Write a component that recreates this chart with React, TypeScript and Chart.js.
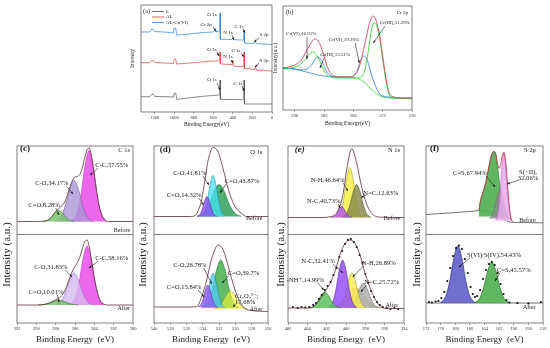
import React, { useEffect, useRef } from 'react';
import { Chart, registerables } from 'chart.js';

Chart.register(...registerables);

const W = 550;
const H = 348;
const FONT = '"Liberation Serif", "DejaVu Serif", "Times New Roman", serif';
Chart.defaults.font.family = FONT;

// ---------------- (a) survey spectra ----------------
const seriesNames = ['L', 'AL', 'AL-Cr(VI)'];
const surveyE_L = [1340, 1250, 1230, 1215, 1200, 1100, 1010, 1000, 985, 975, 900, 800, 700, 600, 545, 533, 531, 528, 300, 288, 285, 282, 0];
const surveyL = [15.3, 15.3, 17.7, 17.7, 15.5, 15.3, 15, 18.7, 18.7, 12.7, 13.5, 14.7, 15.8, 16.5, 17, 18, 32, 12.7, 12.3, 13.5, 32, 8, 8];
const surveyE_AL = [1340, 1250, 1230, 1215, 1200, 1100, 1010, 1000, 985, 975, 900, 800, 700, 600, 545, 533, 531, 528, 410, 402, 400, 397, 300, 288, 285, 282, 240, 230, 225, 180, 168, 160, 100, 0];
const surveyAL = [49.3, 49.3, 51.3, 51.3, 49.5, 49, 48.5, 52.7, 52.7, 48, 48.5, 49.3, 50.3, 51, 51.3, 53, 60, 48, 47.5, 48, 52, 46, 45.5, 47, 60, 43.7, 43.2, 44.5, 43, 42.5, 45.3, 42, 41.5, 41];
const surveyE_ALCr = [1340, 1250, 1230, 1215, 1200, 1100, 1010, 1000, 985, 975, 900, 800, 700, 600, 590, 580, 575, 545, 533, 531, 528, 500, 410, 400, 395, 300, 288, 285, 282, 200, 168, 162, 0];
const surveyALCr = [80, 80, 83, 83, 80.5, 80, 79, 84, 84, 77, 77.5, 78.5, 79.5, 80, 81, 82, 80.5, 80.5, 82, 98.7, 72.7, 72.7, 72.5, 74, 72.3, 72, 73, 82, 69, 68.5, 69.5, 68.3, 67.5];
const surveyTicks = { min: 0, max: 1340, step: 200 };

// ---------------- (b) Cr 2p ----------------
const crEnvE = [592, 591, 590, 589, 588, 587, 586.6, 586, 585.5, 585, 584.5, 584, 583.3, 582, 581, 580, 579.5, 579, 578.5, 578, 577.5, 577, 576.7, 576.3, 576, 575.5, 575, 574.5, 574, 573.5, 573, 572, 570];
const crEnv = [43, 44, 46, 50, 60, 70, 72, 70, 64, 55, 45, 39, 35, 34, 34, 35, 38, 44, 55, 68, 82, 92, 95, 93, 88, 75, 55, 35, 20, 15, 14, 13, 13];
const crIIIE = [592, 590, 589, 588, 587.5, 587, 586.5, 586, 585.5, 585, 584.5, 584, 582, 580, 579, 578.5, 578, 577.5, 577, 576.5, 576, 575.5, 575, 574.5, 574, 573.5, 572, 570];
const crIII = [42, 44, 47, 53, 57, 59, 57.5, 53, 47, 40, 36, 34, 33, 33, 33, 35, 42, 58, 78, 88, 85, 72, 52, 32, 18, 14, 13, 12];
const crVIE = [592, 590, 589, 588, 587, 586.5, 586, 585.5, 585, 584.5, 584, 583, 581, 580, 579.5, 579, 578.5, 578.2, 577.8, 577.3, 577, 576.5, 576, 575.5, 575, 574, 572, 570];
const crVI = [43, 42, 41, 42, 47, 52, 54, 51, 45, 39, 36, 34, 34, 35, 38, 46, 54, 55, 53, 45, 38, 29, 22, 17, 15, 14, 13, 13];
const crBgLeftE = [592, 590, 589, 588, 587, 586, 585, 584, 583];
const crBgLeft = [43, 42, 40.5, 39, 37.5, 36, 35, 34.5, 34];
const crBgRightE = [583, 581, 580, 579, 578, 577, 576, 575, 574, 572, 570];
const crBgRight = [34, 34, 33.5, 32, 28, 22, 17, 14, 13, 12.5, 12.5];
const crTicks = { min: 570, max: 592, step: 5 };

// ---------------- (c) C 1s ----------------
const cTicks = { min: 280, max: 292, step: 2 };
const cBeforeEnvE = [292, 290, 289, 288.5, 288, 287.5, 287, 286.5, 286.1, 285.75, 285.5, 285.25, 285, 284.75, 284.55, 284.25, 284, 283.5, 283, 282.5, 280];
const cBeforeEnv = [13, 13, 13.7, 16.8, 23.1, 27.4, 33.6, 48.3, 56.8, 58.1, 60.1, 66.3, 76.4, 84.9, 86.4, 76.3, 59.6, 28.3, 15.6, 13, 13];
const cBeforeCdOE = [289.35, 288.855, 288.47, 288.085, 287.7, 287.315, 286.93, 286.545, 286.05];
const cBeforeCdO = [13, 14.2, 17.1, 21.6, 24, 21.6, 17.1, 14.2, 13];
const cBeforeCOE = [288.05, 287.465, 287.01, 286.555, 286.1, 285.645, 285.19, 284.735, 284.15];
const cBeforeCO = [13, 17.5, 28.4, 45.1, 54, 45.1, 28.4, 17.5, 13];
const cBeforeCCE = [286.35, 285.81, 285.39, 284.97, 284.55, 284.13, 283.71, 283.29, 282.75];
const cBeforeCC = [13, 20.8, 39.6, 68.6, 84, 68.6, 39.6, 20.8, 13];
const cAfterEnvE = [292, 290, 289.5, 289, 288.5, 288, 287.5, 287, 286.5, 286.1, 285.75, 285.5, 285.25, 285, 284.75, 284.5, 284.25, 284, 283.5, 283, 282.5, 280];
const cAfterEnv = [18, 18, 18.2, 18.9, 20.6, 23, 26, 33.3, 46.5, 55.1, 60.5, 65.9, 74, 81, 83, 75, 60.2, 45, 24.7, 18.8, 18, 18];
const cAfterCdOE = [289.8, 289.17, 288.68, 288.19, 287.7, 287.21, 286.72, 286.23, 285.6];
const cAfterCdO = [18, 18.55, 19.9, 21.9, 23, 21.9, 19.9, 18.55, 18];
const cAfterCOE = [288.05, 287.465, 287.01, 286.555, 286.1, 285.645, 285.19, 284.735, 284.15];
const cAfterCO = [18, 21.5, 30, 43.1, 50, 43.1, 30, 21.5, 18];
const cAfterCCE = [286.55, 286.01, 285.59, 285.17, 284.75, 284.33, 283.91, 283.49, 282.95];
const cAfterCC = [18, 24.5, 40.1, 64.2, 77, 64.2, 40.1, 24.5, 18];

// ---------------- (d) O 1s ----------------
const oTicks = { min: 526, max: 540, step: 2 };
const oBeforeEnvE = [540, 535.5, 534.96, 534.56, 534.14, 533.73, 533.33, 532.71, 532.1, 531.49, 530.87, 530.05, 529.23, 528.61, 526];
const oBeforeEnv = [18, 18, 19, 24, 35, 55, 75, 87, 82, 65, 45, 28, 21, 18, 18];
const oBeforePurE = [534.7, 534.34, 534.06, 533.78, 533.5, 533.22, 532.94, 532.66, 532.3];
const oBeforePur = [18, 20.2, 25.5, 33.7, 38, 33.7, 25.5, 20.2, 18];
const oBeforeCyanE = [534.25, 533.8, 533.45, 533.1, 532.75, 532.4, 532.05, 531.7, 531.25];
const oBeforeCyan = [18, 22.5, 33.4, 50.1, 59, 50.1, 33.4, 22.5, 18];
const oBeforeGrnE = [534.7, 533.89, 533.26, 532.63, 532.0, 531.37, 530.74, 530.11, 529.3];
const oBeforeGrn = [18, 21.5, 30, 43.1, 50, 43.1, 30, 21.5, 18];
const oAfterEnvE = [540, 535.5, 534.76, 534.14, 533.53, 532.91, 532.1, 531.49, 530.87, 530.05, 529.23, 528.4, 526];
const oAfterEnv = [16, 16, 16.3, 26.3, 43, 64.7, 78, 73, 56.3, 33, 18, 13, 11.5];
const oAfterPurE = [534.6, 534.24, 533.96, 533.68, 533.4, 533.12, 532.84, 532.56, 532.2];
const oAfterPur = [16, 18.4, 24.3, 33.2, 38, 33.2, 24.3, 18.4, 16];
const oAfterCyanE = [534.25, 533.8, 533.45, 533.1, 532.75, 532.4, 532.05, 531.7, 531.25];
const oAfterCyan = [15, 18.9, 28.1, 42.4, 50, 42.4, 28.1, 18.9, 15];
const oAfterGrnE = [534.05, 533.375, 532.85, 532.325, 531.8, 531.275, 530.75, 530.225, 529.55];
const oAfterGrn = [15, 20.3, 33, 52.6, 63, 52.6, 33, 20.3, 15];
const oAfterYelE = [532.7, 532.07, 531.58, 531.09, 530.6, 530.11, 529.62, 529.13, 528.5];
const oAfterYel = [14, 16, 20.75, 28.1, 32, 28.1, 20.75, 16, 14];

// ---------------- (e) N 1s ----------------
const nTicks = { min: 394, max: 406, step: 2 };
const nBeforeEnvE = [406, 402.5, 401.66, 400.8, 400.28, 399.93, 399.41, 398.9, 398.55, 398.03, 397.34, 396.3, 394];
const nBeforeEnv = [17, 17, 17.7, 24.3, 41.7, 65, 85.7, 71.7, 55, 35, 21, 17.3, 17];
const nBeforeNCE = [401.5, 401.185, 400.94, 400.695, 400.45, 400.205, 399.96, 399.715, 399.4];
const nBeforeNC = [17, 18.2, 21.1, 25.6, 28, 25.6, 21.1, 18.2, 17];
const nBeforeNHE = [400.95, 400.545, 400.23, 399.915, 399.6, 399.285, 398.97, 398.655, 398.25];
const nBeforeNH = [17, 22.5, 35.8, 56.2, 67, 56.2, 35.8, 22.5, 17];
const nBeforeNdCE = [400.4, 399.95, 399.6, 399.25, 398.9, 398.55, 398.2, 397.85, 397.4];
const nBeforeNdC = [17, 20.6, 29.4, 42.8, 50, 42.8, 29.4, 20.6, 17];
const nAfterEnvE = [406, 404, 403.55, 402.86, 402.17, 401.48, 400.96, 400.45, 399.93, 399.59, 399.07, 398.55, 398.03, 397.34, 396.66, 395.97, 394];
const nAfterEnv = [15, 15, 15.3, 21.3, 31.3, 43, 57, 73, 81.3, 83, 79.7, 68, 49.7, 31.3, 19, 14.7, 14.5];
const nAfterNHpE = [403.85, 403.355, 402.97, 402.585, 402.2, 401.815, 401.43, 401.045, 400.55];
const nAfterNHp = [15, 16.8, 21, 27.5, 31, 27.5, 21, 16.8, 15];
const nAfterNCE = [401.85, 401.4, 401.05, 400.7, 400.35, 400.0, 399.65, 399.3, 398.85];
const nAfterNC = [15, 20.3, 33, 52.6, 63, 52.6, 33, 20.3, 15];
const nAfterNHE = [400.9, 400.45, 400.1, 399.75, 399.4, 399.05, 398.7, 398.35, 397.9];
const nAfterNH = [15, 18.9, 28.1, 42.4, 50, 42.4, 28.1, 18.9, 15];
const nAfterNdCE = [399.85, 399.355, 398.97, 398.585, 398.2, 397.815, 397.43, 397.045, 396.55];
const nAfterNdC = [15, 17.75, 24.4, 34.6, 40, 34.6, 24.4, 17.75, 15];
const nAfterTanE = [401.7, 400.89, 400.26, 399.63, 399.0, 398.37, 397.74, 397.11, 396.3];
const nAfterTan = [15, 17.2, 22.5, 30.7, 35, 30.7, 22.5, 17.2, 15];
const nAfterDotE = [405.5, 405, 404.6, 404.2, 403.8, 403.4, 403.1, 402.8, 402.5, 402.2, 401.9, 401.6, 401.3, 401, 400.7, 400.4, 400.1, 399.8, 399.5, 399.2, 398.9, 398.6, 398.3, 398, 397.7, 397.4, 397.1, 396.8, 396.5, 396.2, 395.8, 395.4, 395, 394.6];
const nAfterDot = [16, 15, 16, 15.5, 16, 18, 20, 24, 28, 33, 37, 41, 48, 55, 66, 72, 79, 83, 84, 81, 76, 68, 60, 49, 40, 32, 26, 21, 18, 16, 15, 14, 15, 14];

// ---------------- (f) S 2p ----------------
const sTicks = { min: 156, max: 172, step: 2 };
const sBeforeBgE = [172, 166, 164.6, 163.5, 162.8, 161.5, 160.5, 159.5, 156];
const sBeforeBg = [20, 23, 24, 23, 21, 16, 12.3, 12, 11.7];
const sBeforeEnvE = [164.75, 164.55, 164.3, 164.0, 163.6, 163.2, 162.9, 162.7, 162.45, 162.2, 162.0, 161.8, 161.6, 161.35, 161.1, 160.85, 160.6, 160.35, 160.1];
const sBeforeEnv = [24, 34, 40, 47, 60, 75, 82, 83, 80, 70, 66, 70, 78, 82, 72, 50, 28, 15, 12.5];
const sBeforeCSE = [164.75, 164.55, 164.3, 164.0, 163.6, 163.2, 162.9, 162.7, 162.45, 162.2, 161.9, 161.6, 161.3, 161.0];
const sBeforeCS = [24, 34, 40, 47, 60, 75, 82, 83, 80, 68, 48, 30, 20, 17];
const sBeforeGrayE = [163.4, 162.95, 162.6, 162.25, 161.9, 161.55, 161.2, 160.85, 160.4];
const sBeforeGray = [16, 19.2, 26.9, 38.7, 45, 38.7, 26.9, 19.2, 16];
const sBeforeSIIE = [162.49, 162.148, 161.882, 161.616, 161.35, 161.084, 160.818, 160.552, 160.21];
const sBeforeSII = [14, 21.5, 39.5, 67.2, 82, 67.2, 39.5, 21.5, 14];
const sAfterBaseE = [172, 156];
const sAfterBase = [20, 20];
const sAfterSVIE = [170.05, 169.33, 168.77, 168.21, 167.65, 167.09, 166.53, 165.97, 165.25];
const sAfterSVI = [20, 26.3, 41.4, 64.6, 77, 64.6, 41.4, 26.3, 20];
const sAfterCSE = [165.4, 164.68, 164.12, 163.56, 163.0, 162.44, 161.88, 161.32, 160.6];
const sAfterCS = [20, 24.5, 35.4, 52.1, 61, 52.1, 35.4, 24.5, 20];
const sAfterDotE = [171.6, 171.2, 170.7, 170.3, 169.9, 169.5, 169.1, 168.7, 168.3, 167.9, 167.5, 167.1, 166.7, 166.3, 165.9, 165.6, 165.3, 165.0, 164.6, 164.2, 163.8, 163.4, 163.0, 162.6, 162.2, 161.8, 161.4, 161.0, 160.6, 159.5, 158, 156.3];
const sAfterDot = [21, 20.5, 21.5, 22, 25, 31, 42, 55, 67, 75, 77.5, 74, 64, 50, 36, 29, 26, 27, 33, 44, 53, 59, 61, 58, 50, 39, 29, 23, 20.5, 20, 19.5, 21];

// ---------------- helpers ----------------
type Ann = { t: string; x: number; y: number; ax?: string; al?: CanvasTextAlign; s?: number; b?: boolean; i?: boolean; arr?: number[] };
type Area = { l: number; t: number; r: number; b: number };

const pts = (xs: number[], ys: number[]) => xs.map((x, i) => ({ x, y: ys[i] }));

const lineDs = (label: string, xs: number[], ys: number[], color: string, yAxisID = 'y', width = 0.8, smooth = true) => ({
  label, data: pts(xs, ys), yAxisID, borderColor: color, backgroundColor: color, borderWidth: width,
  pointRadius: 0, fill: false, tension: 0, cubicInterpolationMode: smooth ? 'monotone' : 'default',
});
const areaDs = (label: string, xs: number[], ys: number[], edge: string, fillColor: string, base: number, yAxisID: string) => ({
  label, data: pts(xs, ys), yAxisID, borderColor: edge, backgroundColor: fillColor, borderWidth: 0.6,
  pointRadius: 0, fill: { value: base }, cubicInterpolationMode: 'monotone',
});
const dotDs = (label: string, xs: number[], ys: number[], yAxisID: string) => ({
  label, data: pts(xs, ys), yAxisID, showLine: false, pointRadius: 1.1, pointBorderWidth: 0,
  pointBackgroundColor: '#111', borderColor: '#111', backgroundColor: '#111', fill: false,
});

function xScale(t: { min: number; max: number; step: number }, title: string, tickSize: number, titleSize: number, height: number) {
  return {
    type: 'linear', position: 'bottom', reverse: true, min: t.min, max: t.max,
    ticks: {
      stepSize: t.step, includeBounds: false, autoSkip: false, maxRotation: 0,
      font: { size: tickSize, family: FONT }, color: '#333', padding: 1,
      callback: (v: any) => String(v),
    },
    grid: { display: true, drawOnChartArea: false, drawTicks: true, tickLength: 2, color: '#555', lineWidth: 0.5 },
    border: { display: false },
    title: { display: true, text: title, font: { size: titleSize, family: FONT }, color: '#222', padding: 0 },
    afterFit: (s: any) => { s.height = height; },
  };
}

function baseOptions(area: Area, xH: number, scales: any) {
  return {
    responsive: false, animation: false, events: [],
    layout: { padding: { left: area.l, top: area.t, right: W - area.r, bottom: H - area.b - xH } },
    plugins: { legend: { display: false }, tooltip: { enabled: false } },
    scales,
  };
}

function decor(anns: Ann[], o: { divider?: boolean; yTitle?: { text: string; dx: number; size: number; dy?: number }; legend?: boolean }) {
  return {
    id: 'decor',
    afterDraw(chart: any) {
      const ctx = chart.ctx as CanvasRenderingContext2D;
      const ca = chart.chartArea;
      const xs = chart.scales.x;
      ctx.save();
      ctx.strokeStyle = '#4a4a4a';
      ctx.lineWidth = 0.7;
      ctx.strokeRect(ca.left, ca.top, ca.right - ca.left, ca.bottom - ca.top);
      if (o.divider) {
        const yb = chart.scales.yB.bottom;
        ctx.beginPath(); ctx.moveTo(ca.left, yb); ctx.lineTo(ca.right, yb); ctx.stroke();
      }
      if (o.yTitle) {
        ctx.save();
        ctx.translate(ca.left - o.yTitle.dx, (ca.top + ca.bottom) / 2 + (o.yTitle.dy || 0));
        ctx.rotate(-Math.PI / 2);
        ctx.font = `${o.yTitle.size}px ${FONT}`;
        ctx.fillStyle = '#222'; ctx.textAlign = 'center'; ctx.textBaseline = 'middle';
        ctx.fillText(o.yTitle.text, 0, 0);
        ctx.restore();
      }
      if (o.legend) {
        chart.data.datasets.forEach((d: any, i: number) => {
          const y = ca.top + 6.5 + i * 5.5;
          ctx.strokeStyle = d.borderColor; ctx.lineWidth = 0.8;
          ctx.beginPath(); ctx.moveTo(ca.left + 11, y); ctx.lineTo(ca.left + 23, y); ctx.stroke();
          ctx.fillStyle = '#222'; ctx.font = `5px ${FONT}`; ctx.textAlign = 'left'; ctx.textBaseline = 'middle';
          ctx.fillText(d.label, ca.left + 25, y);
        });
      }
      for (const a of anns) {
        const ys = chart.scales[a.ax || 'y'];
        ctx.strokeStyle = '#1a1a1a'; ctx.fillStyle = '#1a1a1a'; ctx.lineWidth = 0.6;
        if (a.arr) {
          const x1 = xs.getPixelForValue(a.arr[0]), y1 = ys.getPixelForValue(a.arr[1]);
          const x2 = xs.getPixelForValue(a.arr[2]), y2 = ys.getPixelForValue(a.arr[3]);
          ctx.beginPath(); ctx.moveTo(x1, y1); ctx.lineTo(x2, y2); ctx.stroke();
          const ang = Math.atan2(y2 - y1, x2 - x1);
          const c = Math.cos(ang), s = Math.sin(ang);
          ctx.beginPath();
          ctx.moveTo(x2, y2);
          ctx.lineTo(x2 - 2.6 * c + 1.1 * s, y2 - 2.6 * s - 1.1 * c);
          ctx.lineTo(x2 - 2.6 * c - 1.1 * s, y2 - 2.6 * s + 1.1 * c);
          ctx.closePath(); ctx.fill();
        }
        ctx.font = `${a.i ? 'italic ' : ''}${a.b ? 'bold ' : ''}${a.s || 6.6}px ${FONT}`;
        ctx.textAlign = a.al || 'center';
        ctx.textBaseline = 'middle';
        ctx.fillText(a.t, xs.getPixelForValue(a.x), ys.getPixelForValue(a.y));
      }
      ctx.restore();
    },
  };
}

// ---------------- annotations ----------------
const annA: Ann[] = [
  { t: '(a)', x: 1320, y: 100.5, al: 'left', s: 6.5 },
  { t: 'O 1s', x: 614, y: 97, s: 5 },
  { t: 'Cr 2p', x: 675, y: 87, s: 5, arr: [604, 85, 573, 81] },
  { t: 'N 1s', x: 450, y: 79, s: 5, arr: [409, 77, 389, 72] },
  { t: 'C 1s', x: 338, y: 85, s: 5, arr: [297, 83, 276, 79] },
  { t: 'S 2p', x: 82, y: 77, s: 5, arr: [133, 74, 184, 70] },
  { t: 'O 1s', x: 614, y: 62, s: 5, arr: [563, 60, 542, 56] },
  { t: 'N 1s', x: 450, y: 55, s: 5, arr: [419, 52, 399, 49] },
  { t: 'C 1s', x: 368, y: 61, s: 5, arr: [317, 59, 286, 55] },
  { t: 'S 2p', x: 82, y: 51, s: 5, arr: [133, 49, 174, 45] },
  { t: 'O 1s', x: 614, y: 32, s: 5, arr: [563, 29, 532, 22] },
  { t: 'C 1s', x: 348, y: 28, s: 5, arr: [307, 26, 286, 21] },
];
const annB: Ann[] = [
  { t: '(b)', x: 591.5, y: 99, al: 'left', s: 6.5 },
  { t: 'Cr 2p', x: 570.7, y: 98, al: 'right', s: 5 },
  { t: 'Cr(III),51.29%', x: 572.9, y: 88, s: 5, arr: [574.6, 85, 576.6, 68] },
  { t: 'Cr(VI),16.01%', x: 588.9, y: 77, s: 5, arr: [587.9, 74, 587.9, 52] },
  { t: 'Cr(III),13.51%', x: 583.1, y: 56, s: 5, arr: [585, 53, 585.7, 43] },
  { t: 'Cr(VI),19.20%', x: 581.6, y: 71, s: 5, arr: [579.7, 68, 579, 48] },
];
const annC: Ann[] = [
  { t: '(c)', x: 291.7, y: 85.5, ax: 'yB', al: 'left', s: 9, b: true },
  { t: 'C 1s', x: 280.3, y: 84.5, ax: 'yB', al: 'right', s: 6.5 },
  { t: 'C-C,57.55%', x: 282.2, y: 69.5, ax: 'yB', arr: [283.6, 66.5, 284.45, 59.5] },
  { t: 'C-O,34.17%', x: 288.4, y: 51.5, ax: 'yB', arr: [286.9, 48.5, 286.2, 40.5] },
  { t: 'C=O,8.28%', x: 289.2, y: 29.5, ax: 'yB', arr: [288, 26.5, 287.65, 19.5] },
  { t: 'Before', x: 280.3, y: 4, ax: 'yB', al: 'right', s: 6 },
  { t: 'C-C,58.16%', x: 282.2, y: 65, ax: 'yA', arr: [283.6, 62, 284.55, 55] },
  { t: 'C-O,31.83%', x: 288.5, y: 56, ax: 'yA', arr: [287, 53, 286.3, 46] },
  { t: 'C=O,10.01%', x: 289, y: 31, ax: 'yA', arr: [287.8, 28, 287.65, 20.5] },
  { t: 'After', x: 280.3, y: 15, ax: 'yA', al: 'right', s: 6 },
];
const annD: Ann[] = [
  { t: '(d)', x: 539.3, y: 84.5, ax: 'yB', al: 'left', s: 9, b: true },
  { t: 'O 1s', x: 526.7, y: 82.5, ax: 'yB', al: 'right', s: 6.5 },
  { t: 'C-O,41.81%', x: 535.6, y: 61.5, ax: 'yB', arr: [534, 58.5, 533.25, 49.5] },
  { t: 'C=O,43.87%', x: 529.2, y: 53.5, ax: 'yB', arr: [531.15, 50.5, 531.9, 41.5] },
  { t: 'C=O,14.32%', x: 536.3, y: 39.5, ax: 'yB', arr: [534.5, 36.5, 533.9, 29.5] },
  { t: 'Before', x: 526.7, y: 16, ax: 'yB', al: 'right', s: 6 },
  { t: 'C-O,26.78%', x: 535.6, y: 58, ax: 'yA', arr: [533.9, 55, 532.9, 39] },
  { t: 'C=O,39.7%', x: 529, y: 50, ax: 'yA', arr: [530.8, 47, 531.65, 40] },
  { t: 'C=O,15.84%', x: 536.3, y: 36, ax: 'yA', arr: [534.6, 33, 533.85, 26] },
  { t: 'Cr\u2082O\u2087\u00B2\u207B;', x: 530.05, y: 27, ax: 'yA', al: 'left' },
  { t: '17.68%', x: 530.05, y: 21, ax: 'yA', al: 'left', arr: [530.0, 19, 530.3, 16] },
  { t: 'After', x: 526.7, y: 14, ax: 'yA', al: 'right', s: 6 },
];
const annE: Ann[] = [
  { t: '(e)', x: 405.3, y: 84.5, ax: 'yB', al: 'left', s: 9, b: true, i: true },
  { t: 'N 1s', x: 394.4, y: 84.5, ax: 'yB', al: 'right', s: 6.5 },
  { t: 'N-H,46.64%', x: 401.9, y: 54.5, ax: 'yB', arr: [400.3, 51.5, 399.8, 43.5] },
  { t: 'N=C,12.63%', x: 396.4, y: 41.5, ax: 'yB', arr: [397.9, 39.5, 398.45, 37] },
  { t: 'N-C,40.73%', x: 402.3, y: 33.5, ax: 'yB', arr: [400.8, 30.5, 400.6, 26.5] },
  { t: 'Before', x: 394.4, y: 16, ax: 'yB', al: 'right', s: 6 },
  { t: 'N-C,32.41%', x: 402.9, y: 62, ax: 'yA', arr: [401.35, 59, 400.3, 50] },
  { t: 'N-H,26.89%', x: 396.6, y: 60, ax: 'yA', arr: [398.2, 57, 399.3, 46] },
  { t: '-NH\u207A,14.99%', x: 404.2, y: 43, ax: 'yA', arr: [402.9, 40, 402.3, 33] },
  { t: 'N=C,25.72%', x: 396.3, y: 41, ax: 'yA', arr: [397.9, 38, 398.45, 31] },
  { t: 'After', x: 394.6, y: 18, ax: 'yA', al: 'right', s: 6 },
];
const annF: Ann[] = [
  { t: '(f)', x: 171.45, y: 85.5, ax: 'yB', al: 'left', s: 9, b: true },
  { t: 'S 2p', x: 157, y: 84.5, ax: 'yB', al: 'right', s: 6.5 },
  { t: 'C=S,67.94%', x: 166, y: 61.5, ax: 'yB', arr: [163.8, 58.5, 162.55, 47.5] },
  { t: 'S(\u2212II),', x: 158.05, y: 62.5, ax: 'yB' },
  { t: '32.06%', x: 158.05, y: 56.5, ax: 'yB', arr: [159.3, 54.5, 160.9, 50.5] },
  { t: 'Before', x: 157, y: 14.5, ax: 'yB', al: 'right', s: 6 },
  { t: 'S(VI)/S(IV),54.43%', x: 162.7, y: 68, ax: 'yA', arr: [166, 65, 167.5, 56] },
  { t: 'C=S,45.57%', x: 160, y: 53, ax: 'yA', arr: [161.9, 50, 162.55, 42] },
  { t: 'After', x: 157, y: 16, ax: 'yA', al: 'right', s: 6 },
];

// ---------------- panel configs ----------------
const stackY = () => ({
  yA: { type: 'linear', display: false, position: 'left', stack: 'sp', stackWeight: 1, min: 0, max: 88.5 },
  yB: { type: 'linear', display: false, position: 'left', stack: 'sp', stackWeight: 1, min: 0, max: 88.5 },
});
const XT = 'Binding Energy  (eV)';
const ENV = '#5c3232';

function panelA() {
  const area = { l: 141, t: 5, r: 272, b: 112 };
  return {
    type: 'line',
    data: { datasets: [
      lineDs(seriesNames[0], surveyE_L, surveyL, '#555555', 'y', 0.7, false),
      lineDs(seriesNames[1], surveyE_AL, surveyAL, '#e0403c', 'y', 0.7, false),
      lineDs(seriesNames[2], surveyE_ALCr, surveyALCr, '#2f7fd6', 'y', 0.7, false),
    ] },
    options: baseOptions(area, 16.3, { x: xScale(surveyTicks, 'Binding Energy(eV)', 4.5, 5.5, 16.3), y: { type: 'linear', display: false, min: 0, max: 107 } }),
    plugins: [decor(annA, { yTitle: { text: 'Intensity', dx: 8, size: 5.5 }, legend: true })],
  };
}

function panelB() {
  const area = { l: 283, t: 6, r: 412, b: 110 };
  return {
    type: 'line',
    data: { datasets: [
      lineDs('Envelope', crEnvE, crEnv, '#d04a5e', 'y', 0.9),
      lineDs('Cr(III)', crIIIE, crIII, '#39d839', 'y', 0.9),
      lineDs('Cr(VI)', crVIE, crVI, '#3b86d4', 'y', 0.9),
      lineDs('Background', crBgLeftE, crBgLeft, '#3b86d4', 'y', 0.8),
      lineDs('Background 2', crBgRightE, crBgRight, '#39d839', 'y', 0.8),
    ] },
    options: baseOptions(area, 17, { x: xScale(crTicks, 'Binding Energy(eV)', 4.5, 5.5, 17), y: { type: 'linear', display: false, min: 1, max: 105 } }),
    plugins: [decor(annB, { yTitle: { text: 'Intensity(a.u.)', dx: 7, size: 5.5 } })],
  };
}

function bottomPanel(area: Area, ticks: any, datasets: any[], anns: Ann[], dx: number) {
  return {
    type: 'line',
    data: { datasets },
    options: baseOptions(area, 22, { x: xScale(ticks, XT, 4.5, 9, 22), ...stackY() }),
    plugins: [decor(anns, { divider: true, yTitle: { text: 'Intensity (a.u.)', dx, size: 11, dy: 20 } })],
  };
}

function panelC() {
  return bottomPanel({ l: 17, t: 146, r: 133, b: 323 }, cTicks, [
    lineDs('Before envelope', cBeforeEnvE, cBeforeEnv, ENV, 'yB', 0.8),
    areaDs('C=O', cBeforeCdOE, cBeforeCdO, '#3a7a30', 'rgba(120,195,110,0.85)', 13, 'yB'),
    areaDs('C-O', cBeforeCOE, cBeforeCO, '#7a60a0', 'rgba(170,150,215,0.8)', 13, 'yB'),
    areaDs('C-C', cBeforeCCE, cBeforeCC, '#c040c0', 'rgba(236,90,236,0.92)', 13, 'yB'),
    lineDs('After envelope', cAfterEnvE, cAfterEnv, ENV, 'yA', 0.8),
    areaDs('C=O', cAfterCdOE, cAfterCdO, '#3a7a30', 'rgba(120,195,110,0.85)', 18, 'yA'),
    areaDs('C-O', cAfterCOE, cAfterCO, '#9070b0', 'rgba(215,185,240,0.8)', 18, 'yA'),
    areaDs('C-C', cAfterCCE, cAfterCC, '#c040c0', 'rgba(236,90,236,0.92)', 18, 'yA'),
  ], annC, 10);
}

function panelD() {
  return bottomPanel({ l: 154, t: 146, r: 268, b: 323 }, oTicks, [
    lineDs('Before envelope', oBeforeEnvE, oBeforeEnv, ENV, 'yB', 0.8),
    areaDs('C=O (14.32)', oBeforePurE, oBeforePur, '#5a2aa0', 'rgba(140,80,235,0.8)', 18, 'yB'),
    areaDs('C-O', oBeforeCyanE, oBeforeCyan, '#2090b0', 'rgba(70,225,245,0.75)', 18, 'yB'),
    areaDs('C=O (43.87)', oBeforeGrnE, oBeforeGrn, '#1d6a3a', 'rgba(50,160,90,0.85)', 18, 'yB'),
    lineDs('After envelope', oAfterEnvE, oAfterEnv, ENV, 'yA', 0.8),
    areaDs('C=O (15.84)', oAfterPurE, oAfterPur, '#5a2aa0', 'rgba(150,90,240,0.8)', 16, 'yA'),
    areaDs('C-O', oAfterCyanE, oAfterCyan, '#2090b0', 'rgba(80,200,250,0.75)', 15, 'yA'),
    areaDs('Cr2O7', oAfterYelE, oAfterYel, '#b0a020', 'rgba(245,245,60,0.65)', 14, 'yA'),
    areaDs('C=O (39.7)', oAfterGrnE, oAfterGrn, '#1d6a3a', 'rgba(70,175,75,0.85)', 15, 'yA'),
  ], annD, 11);
}

function panelE() {
  return bottomPanel({ l: 288, t: 146, r: 404, b: 323 }, nTicks, [
    lineDs('Before envelope', nBeforeEnvE, nBeforeEnv, ENV, 'yB', 0.8),
    areaDs('N-C', nBeforeNCE, nBeforeNC, '#7030a0', 'rgba(175,80,235,0.8)', 17, 'yB'),
    areaDs('N=C', nBeforeNdCE, nBeforeNdC, '#5a5a30', 'rgba(140,140,80,0.85)', 17, 'yB'),
    areaDs('N-H', nBeforeNHE, nBeforeNH, '#b0a020', 'rgba(245,240,70,0.85)', 17, 'yB'),
    lineDs('After envelope', nAfterEnvE, nAfterEnv, ENV, 'yA', 0.8),
    dotDs('After data', nAfterDotE, nAfterDot, 'yA'),
    areaDs('-NH+', nAfterNHpE, nAfterNHp, '#2a7a2a', 'rgba(90,195,90,0.85)', 15, 'yA'),
    areaDs('N-C', nAfterNCE, nAfterNC, '#5a2aa0', 'rgba(150,80,245,0.85)', 15, 'yA'),
    areaDs('N-H', nAfterNHE, nAfterNH, '#b0a020', 'rgba(250,235,80,0.8)', 15, 'yA'),
    areaDs('N=C', nAfterNdCE, nAfterNdC, '#707070', 'rgba(175,175,175,0.85)', 15, 'yA'),
    areaDs('tan', nAfterTanE, nAfterTan, '#a07840', 'rgba(205,165,105,0.6)', 15, 'yA'),
  ], annE, 7);
}

function panelF() {
  return bottomPanel({ l: 426, t: 146, r: 543, b: 323 }, sTicks, [
    lineDs('Before envelope', sBeforeEnvE, sBeforeEnv, '#b84050', 'yB', 0.9),
    areaDs('S(-II)', sBeforeSIIE, sBeforeSII, '#cc55cc', 'rgba(230,170,235,0.85)', 14, 'yB'),
    areaDs('gray', sBeforeGrayE, sBeforeGray, '#707070', 'rgba(140,140,140,0.85)', 16, 'yB'),
    areaDs('C=S', sBeforeCSE, sBeforeCS, '#2a6a2a', 'rgba(80,175,80,0.9)', 18, 'yB'),
    lineDs('Before background', sBeforeBgE, sBeforeBg, '#333333', 'yB', 0.7),
    dotDs('After data', sAfterDotE, sAfterDot, 'yA'),
    areaDs('S(VI)/S(IV)', sAfterSVIE, sAfterSVI, '#202070', 'rgba(95,95,200,0.9)', 20, 'yA'),
    areaDs('C=S', sAfterCSE, sAfterCS, '#1a5a1a', 'rgba(80,175,80,0.9)', 20, 'yA'),
    lineDs('After baseline', sAfterBaseE, sAfterBase, '#333333', 'yA', 0.7),
  ], annF, 9);
}

function Layer({ make }: { make: () => any }) {
  const ref = useRef<HTMLCanvasElement>(null);
  useEffect(() => {
    const chart = new Chart(ref.current as HTMLCanvasElement, make());
    return () => chart.destroy();
  }, [make]);
  return <canvas ref={ref} width={W} height={H} style={{ position: 'absolute', left: 0, top: 0, width: W, height: H }} />;
}

const PANELS = [panelA, panelB, panelC, panelD, panelE, panelF];

export default function App() {
  useEffect(() => { document.body.style.margin = '0'; }, []);
  return (
    <div style={{ position: 'fixed', left: 0, top: 0, width: W, height: H, background: '#ffffff' }}>
      {PANELS.map((p, i) => <Layer key={i} make={p} />)}
    </div>
  );
}
